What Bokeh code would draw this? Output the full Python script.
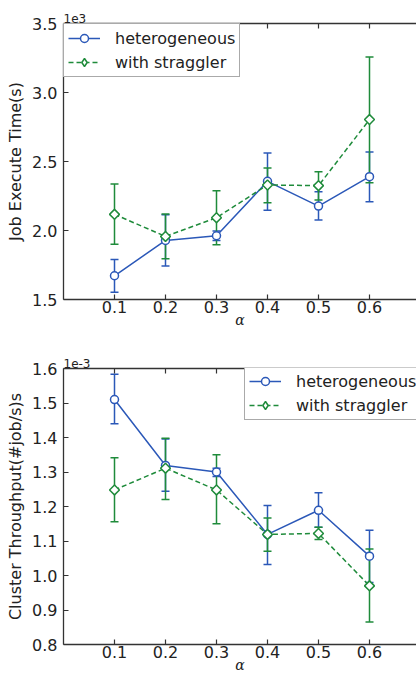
from bokeh.plotting import figure
from bokeh.models import (ColumnDataSource, Whisker, TeeHead, FixedTicker,
                          PrintfTickFormatter, LinearAxis, Range1d, Legend, LegendItem,
                          CustomJSTickFormatter)
from bokeh.layouts import column
from bokeh.embed import file_html
from bokeh.resources import INLINE

# ---- data ----
alpha = [0.1, 0.2, 0.3, 0.4, 0.5, 0.6]

time_het = [1.672, 1.928, 1.962, 2.356, 2.177, 2.390]
time_het_hi = [1.790, 2.114, 1.996, 2.562, 2.281, 2.569]
time_het_lo = [1.553, 1.742, 1.928, 2.146, 2.076, 2.209]
time_str = [2.117, 1.957, 2.093, 2.330, 2.325, 2.804]
time_str_hi = [2.337, 2.119, 2.288, 2.453, 2.426, 3.258]
time_str_lo = [1.901, 1.795, 1.897, 2.201, 2.221, 2.346]

thr_het = [1.510, 1.319, 1.300, 1.119, 1.189, 1.056]
thr_het_hi = [1.583, 1.396, 1.311, 1.203, 1.240, 1.131]
thr_het_lo = [1.440, 1.244, 1.287, 1.032, 1.140, 0.980]
thr_str = [1.248, 1.311, 1.248, 1.119, 1.122, 0.970]
thr_str_hi = [1.341, 1.398, 1.350, 1.167, 1.140, 1.077]
thr_str_lo = [1.156, 1.220, 1.150, 1.070, 1.104, 0.865]

x_ticks = [0.1, 0.2, 0.3, 0.4, 0.5, 0.6]
y1_ticks = [1.5, 2.0, 2.5, 3.0, 3.5]
y2_ticks = [0.8, 0.9, 1.0, 1.1, 1.2, 1.3, 1.4, 1.5, 1.6]

series_names = ["heterogeneous", "with straggler"]

BLUE = "#2b58b8"
GREEN = "#1f8b3b"
AXC = "#333333"
TXT = "#222222"
FONT = "DejaVu Sans"
NAN = float("nan")


def style_axis(ax, ticks, show_labels=True):
    ax.ticker = FixedTicker(ticks=ticks)
    if show_labels:
        ax.formatter = PrintfTickFormatter(format="%.1f")
        ax.major_label_text_font_size = "16px"
    else:
        ax.formatter = CustomJSTickFormatter(code="return ''")
        ax.major_label_text_font_size = "2px"
    ax.major_tick_in = 5
    ax.major_tick_out = 0
    ax.minor_tick_line_color = None
    ax.axis_line_color = AXC
    ax.axis_line_width = 1.3
    ax.major_tick_line_color = AXC
    ax.major_tick_line_width = 1.2
    ax.major_label_text_font = FONT
    ax.major_label_text_color = TXT
    ax.axis_label_text_color = TXT


def make_panel(height, top, bottom, yr, yticks, ylabel, exp_text,
               het, het_hi, het_lo, stg, stg_hi, stg_lo, legend_loc):
    p = figure(width=416, height=height, output_backend="svg", toolbar_location=None,
               x_range=Range1d(0.0, 353 / 510), y_range=Range1d(*yr),
               min_border_left=63, min_border_right=0,
               min_border_top=top, min_border_bottom=bottom,
               title=exp_text)
    p.title.text_font = FONT
    p.title.text_font_size = "12px"
    p.title.text_font_style = "normal"
    p.title.text_color = TXT
    p.title.align = "left"
    p.title.standoff = 1
    p.outline_line_color = None
    p.xgrid.visible = False
    p.ygrid.visible = False
    p.background_fill_color = "white"
    p.border_fill_color = "white"

    style_axis(p.xaxis[0], x_ticks)
    style_axis(p.yaxis[0], yticks)
    p.xaxis[0].major_label_standoff = 1
    p.yaxis[0].major_label_standoff = 6
    p.xaxis[0].axis_label = "α"
    p.xaxis[0].axis_label_text_font = "DejaVu Serif"
    p.xaxis[0].axis_label_text_font_style = "italic"
    p.xaxis[0].axis_label_text_font_size = "14px"
    p.xaxis[0].axis_label_standoff = -4
    p.yaxis[0].axis_label = ylabel
    p.yaxis[0].axis_label_text_font = FONT
    p.yaxis[0].axis_label_text_font_style = "normal"
    p.yaxis[0].axis_label_text_font_size = "16px"
    p.yaxis[0].axis_label_standoff = 4

    top_ax = LinearAxis()
    style_axis(top_ax, x_ticks, show_labels=False)
    top_ax.major_label_standoff = 0
    p.add_layout(top_ax, "above")

    items = []
    for vals, hi, lo, color, marker, msize, ang, leg_marker, leg_size, dash, name in [
        (het, het_hi, het_lo, BLUE, "circle", 8, 0.0, "circle", 8, "solid", series_names[0]),
        (stg, stg_hi, stg_lo, GREEN, "square", 7, 0.7854, "diamond", 12, "5 3", series_names[1]),
    ]:
        src = ColumnDataSource(dict(x=alpha, y=vals, hi=hi, lo=lo))
        w = Whisker(base="x", upper="hi", lower="lo", source=src,
                    line_color=color, line_width=1.5,
                    upper_head=TeeHead(size=8, line_color=color, line_width=1.5),
                    lower_head=TeeHead(size=8, line_color=color, line_width=1.5))
        p.add_layout(w)
        ln = p.line("x", "y", source=src, line_color=color, line_width=1.5, line_dash=dash)
        p.scatter("x", "y", source=src, marker=marker, size=msize, angle=ang,
                  fill_color="white", line_color=color, line_width=1.5)
        # legend-only marker renderer (its single point is NaN, so nothing is plotted)
        leg_src = ColumnDataSource(dict(x=[NAN], y=[NAN]))
        lsc = p.scatter("x", "y", source=leg_src, marker=leg_marker, size=leg_size,
                        fill_color="white", line_color=color, line_width=1.5)
        items.append(LegendItem(label=name, renderers=[ln, lsc]))

    leg = Legend(items=items, location=legend_loc)
    leg.label_text_font = FONT
    leg.label_text_font_size = "16px"
    leg.label_text_color = TXT
    leg.glyph_width = 32
    leg.glyph_height = 20
    leg.label_height = 20
    leg.label_standoff = 15
    leg.spacing = 4
    leg.padding = 4
    leg.margin = 0
    leg.border_line_color = "#555555"
    leg.border_line_width = 1.3
    leg.background_fill_alpha = 1.0
    p.add_layout(leg, "center")
    return p


p1 = make_panel(339, 23, 40, (1.5, 3.5), y1_ticks, "Job Execute Time(s)", "1e3",
                time_het, time_het_hi, time_het_lo, time_str, time_str_hi, time_str_lo,
                "top_left")
p2 = make_panel(336, 29, 31, (0.8, 1.6), y2_ticks, "Cluster Throughput(#job/s)s", "1e-3",
                thr_het, thr_het_hi, thr_het_lo, thr_str, thr_str_hi, thr_str_lo,
                (181, 224))

layout = column(p1, p2, spacing=0)
open("out.html", "w").write(file_html(layout, INLINE))
